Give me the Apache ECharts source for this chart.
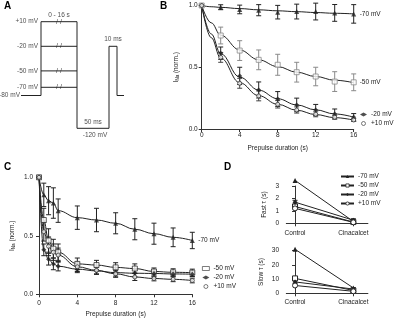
<!DOCTYPE html>
<html>
<head>
<meta charset="utf-8">
<script src="https://cdn.jsdelivr.net/npm/echarts@6/dist/echarts.min.js"></script>
<style>
  html, body { margin: 0; padding: 0; background: #fff; }
  #chart { width: 400px; height: 323px; }
</style>
</head>
<body>
<div id="chart"></div>
<script>
const FONT = "Liberation Sans, Arial, sans-serif";
const INK = "#222";

// A: voltage protocol (schematic time units, mV)
const protoLevels = [10, -20, -50, -70];
const protoLevelLabels = ["+10 mV", "-20 mV", "-50 mV", "-70 mV"];
const protoLeadX = [21, 41, 41];
const protoLeadV = [-80, -80, 10];
const protoTailX = [77, 77, 109, 109, 117, 117, 124];
const protoTailV = [10, -120, -120, -20, -20, -80, -80];
const protoStepX = [41, 77];
const protoBreakX = 59;

// B: slow inactivation, control
const tB = [0, 2, 4, 6, 8, 10, 12, 14, 16];
const bNeg70 = [1, 0.986, 0.968, 0.962, 0.946, 0.951, 0.951, 0.94, 0.932];
const bNeg70Err = [0, 0.02, 0.035, 0.045, 0.055, 0.06, 0.068, 0.068, 0.075];
const bNeg50 = [1, 0.757, 0.635, 0.56, 0.52, 0.46, 0.425, 0.384, 0.378];
const bNeg50Err = [0, 0.068, 0.08, 0.08, 0.085, 0.08, 0.075, 0.08, 0.068];
const bNeg20 = [1, 0.614, 0.43, 0.316, 0.243, 0.195, 0.154, 0.122, 0.095];
const bNeg20Err = [0, 0.05, 0.07, 0.065, 0.06, 0.055, 0.045, 0.04, 0.03];
const bPos10 = [1, 0.58, 0.37, 0.268, 0.2, 0.154, 0.119, 0.095, 0.073];
const bPos10Err = [0, 0.04, 0.04, 0.04, 0.03, 0.025, 0.02, 0.015, 0.012];

const tBFit = [0, 1, 2, 4, 6, 8, 10, 12, 14, 16];
const bFitNeg70 = [1, 0.99, 0.985, 0.975, 0.965, 0.957, 0.95, 0.943, 0.937, 0.932];
const bFitNeg50 = [1, 0.86, 0.76, 0.64, 0.56, 0.505, 0.46, 0.425, 0.395, 0.375];
const bFitNeg20 = [1, 0.77, 0.61, 0.42, 0.315, 0.245, 0.195, 0.155, 0.122, 0.096];
const bFitPos10 = [1, 0.74, 0.575, 0.375, 0.27, 0.2, 0.152, 0.117, 0.092, 0.072];

// C: with cinacalcet
const tC = [0, 0.5, 1, 1.5, 2, 4, 6, 8, 10, 12, 14, 16];
const cNeg70 = [1, 0.85, 0.8, 0.78, 0.715, 0.655, 0.635, 0.607, 0.556, 0.518, 0.487, 0.46];
const cNeg70Err = [0, 0.1, 0.12, 0.13, 0.1, 0.1, 0.1, 0.09, 0.09, 0.09, 0.08, 0.07];
const cNeg50 = [1, 0.635, 0.46, 0.39, 0.36, 0.26, 0.25, 0.23, 0.22, 0.195, 0.188, 0.185];
const cNeg50Err = [0, 0.1, 0.1, 0.08, 0.07, 0.05, 0.04, 0.04, 0.04, 0.03, 0.03, 0.03];
const cNeg20 = [1, 0.38, 0.3, 0.26, 0.24, 0.215, 0.2, 0.185, 0.18, 0.178, 0.174, 0.172];
const cNeg20Err = [0, 0.05, 0.05, 0.05, 0.04, 0.03, 0.03, 0.03, 0.03, 0.03, 0.02, 0.02];
const cPos10 = [1, 0.535, 0.41, 0.36, 0.335, 0.235, 0.205, 0.175, 0.148, 0.135, 0.128, 0.118];
const cPos10Err = [0, 0.08, 0.08, 0.07, 0.06, 0.04, 0.03, 0.03, 0.03, 0.02, 0.02, 0.02];

// D: time constants
const dConds = ["Control", "Cinacalcet"];
const dX = [0, 1];
const dFastNeg70 = [3.45, 0.15];
const dFastNeg50 = [1.35, 0.1];
const dFastNeg20 = [1.7, 0.25];
const dFastPos10 = [1.2, 0.08];
const dFastErr20 = [0.15, 0.12];
const dSlowNeg70 = [31, 3.8];
const dSlowNeg50 = [10.5, 2.0];
const dSlowNeg20 = [8, 3];
const dSlowPos10 = [5.5, 1.4];
const dSlowErr20 = [1.2, 1];

function zip(xs, ys) {
    return xs.map((x, i) => [x, ys[i]]);
}

function errBars(xi, xs, ys, es, color) {
    return {
        type: "custom",
        xAxisIndex: xi,
        yAxisIndex: xi,
        silent: true,
        z: 2,
        clip: false,
        data: xs.map((x, i) => [x, ys[i], es[i]]),
        encode: { x: 0, y: 1 },
        renderItem: function (params, api) {
            const x = api.value(0), y = api.value(1), e = api.value(2);
            if (!e) return { type: "group", children: [] };
            const hi = api.coord([x, y + e]);
            const lo = api.coord([x, y - e]);
            const w = 2.5;
            const st = { stroke: color, lineWidth: 1 };
            return {
                type: "group",
                children: [
                    { type: "line", shape: { x1: hi[0], y1: hi[1], x2: lo[0], y2: lo[1] }, style: st },
                    { type: "line", shape: { x1: hi[0] - w, y1: hi[1], x2: hi[0] + w, y2: hi[1] }, style: st },
                    { type: "line", shape: { x1: lo[0] - w, y1: lo[1], x2: lo[0] + w, y2: lo[1] }, style: st }
                ]
            };
        }
    };
}

function dots(name, xi, xs, ys, symbol, color, hollow, size) {
    return {
        type: "scatter",
        name: name,
        xAxisIndex: xi,
        yAxisIndex: xi,
        z: 4,
        clip: false,
        symbol: symbol,
        symbolSize: size || 5,
        data: zip(xs, ys),
        itemStyle: hollow
            ? { color: "#fff", borderColor: color, borderWidth: 1 }
            : { color: color }
    };
}

function fit(name, xi, xs, ys, label) {
    const s = {
        type: "line",
        name: name,
        xAxisIndex: xi,
        yAxisIndex: xi,
        z: 3,
        silent: true,
        showSymbol: false,
        smooth: 0.4,
        smoothMonotone: "x",
        data: zip(xs, ys),
        lineStyle: { color: INK, width: 1 }
    };
    if (label) {
        s.endLabel = { show: true, formatter: label, distance: 6, fontSize: 6.5, color: INK, fontFamily: FONT };
    }
    return s;
}

function dLine(name, xi, ys, symbol, hollow) {
    return {
        type: "line",
        name: name,
        xAxisIndex: xi,
        yAxisIndex: xi,
        z: 4,
        clip: false,
        symbol: symbol,
        symbolSize: 5,
        showSymbol: true,
        data: zip(dX, ys),
        lineStyle: { color: INK, width: 1 },
        itemStyle: hollow
            ? { color: "#fff", borderColor: INK, borderWidth: 1 }
            : { color: INK }
    };
}

function protoLine(xs, vs) {
    return {
        type: "line",
        xAxisIndex: 0,
        yAxisIndex: 0,
        silent: true,
        showSymbol: false,
        data: zip(xs, vs),
        lineStyle: { color: INK, width: 1 }
    };
}

function axis(extra) {
    return Object.assign({
        axisLine: { lineStyle: { color: "#333", width: 1 } },
        axisTick: { length: 3, lineStyle: { color: "#333" } },
        axisLabel: { fontSize: 6.5, color: INK, margin: 2, fontFamily: FONT },
        splitLine: { show: false },
        nameTextStyle: { fontSize: 6.5, color: INK, fontFamily: FONT }
    }, extra);
}

const inaName = "{a|I}{b|Na}{a| (norm.)}";
const inaRich = {
    a: { fontSize: 6.5, color: INK, fontFamily: FONT },
    b: { fontSize: 4.5, color: INK, fontFamily: FONT, padding: [3, 0, 0, 0] }
};

const series = [];

// panel A
series.push(protoLine(protoLeadX, protoLeadV));
series.push(protoLine(protoTailX, protoTailV));
protoLevels.forEach(v => series.push(protoLine(protoStepX, [v, v])));
series.push({
    type: "scatter", xAxisIndex: 0, yAxisIndex: 0, silent: true, symbolSize: 0,
    data: protoLevels.map((v, i) => ({ value: [protoStepX[0], v], label: { formatter: protoLevelLabels[i] } })),
    label: { show: true, position: "left", distance: 3, fontSize: 6.5, color: INK, fontFamily: FONT }
});
series.push({
    type: "scatter", xAxisIndex: 0, yAxisIndex: 0, silent: true, symbolSize: 0,
    data: [{ value: [protoLeadX[0], protoLeadV[0]], label: { formatter: "-80 mV" } }],
    label: { show: true, position: "left", distance: 1, fontSize: 6.5, color: INK, fontFamily: FONT }
});
series.push({
    type: "scatter", xAxisIndex: 0, yAxisIndex: 0, silent: true, symbolSize: 0,
    data: protoLevels.map(v => [protoBreakX, v]),
    label: {
        show: true, position: "inside", formatter: "/ /", fontSize: 7, color: INK,
        fontFamily: FONT, backgroundColor: "#fff", padding: [0, 0]
    }
});
series.push({
    type: "scatter", xAxisIndex: 0, yAxisIndex: 0, silent: true, symbolSize: 0,
    data: [
        { value: [59, 10], label: { formatter: "0 - 16 s", position: "top", distance: 3 } },
        { value: [113, -20], label: { formatter: "10 ms", position: "top", distance: 4 } },
        { value: [93, -120], label: { formatter: "50 ms", position: "top", distance: 3 } },
        { value: [95, -120], label: { formatter: "-120 mV", position: "bottom", distance: 3 } }
    ],
    label: { show: true, fontSize: 6.5, color: INK, fontFamily: FONT }
});

// panel B
series.push(errBars(1, tB, bNeg70, bNeg70Err, INK));
series.push(errBars(1, tB, bNeg50, bNeg50Err, "#8a8a8a"));
series.push(errBars(1, tB, bNeg20, bNeg20Err, INK));
series.push(errBars(1, tB, bPos10, bPos10Err, "#444"));
series.push(fit("Bf70", 1, tBFit, bFitNeg70, "-70 mV"));
series.push(fit("Bf50", 1, tBFit, bFitNeg50, "-50 mV"));
series.push(fit("Bf20", 1, tBFit, bFitNeg20));
series.push(fit("Bf10", 1, tBFit, bFitPos10));
series.push(dots("B|-70 mV", 1, tB, bNeg70, "triangle", INK, false, 5));
series.push(dots("B|-50 mV", 1, tB, bNeg50, "rect", "#8a8a8a", true, 5));
series.push(dots("B|-20 mV", 1, tB, bNeg20, "diamond", INK, false, 5));
series.push(dots("B|+10 mV", 1, tB, bPos10, "circle", "#333", true, 4));

// panel C
series.push(errBars(2, tC, cNeg70, cNeg70Err, INK));
series.push(errBars(2, tC, cNeg50, cNeg50Err, INK));
series.push(errBars(2, tC, cNeg20, cNeg20Err, INK));
series.push(errBars(2, tC, cPos10, cPos10Err, INK));
series.push(fit("Cf70", 2, tC, cNeg70, "-70 mV"));
series.push(fit("Cf50", 2, tC, cNeg50));
series.push(fit("Cf20", 2, tC, cNeg20));
series.push(fit("Cf10", 2, tC, cPos10));
series.push(dots("C|-70 mV", 2, tC, cNeg70, "triangle", INK, false, 5));
series.push(dots("C|-50 mV", 2, tC, cNeg50, "rect", "#333", true, 5));
series.push(dots("C|-20 mV", 2, tC, cNeg20, "diamond", INK, false, 5));
series.push(dots("C|+10 mV", 2, tC, cPos10, "circle", "#333", true, 4));

// panel D
series.push(errBars(3, dX, dFastNeg20, dFastErr20, INK));
series.push(dLine("D|-70 mV", 3, dFastNeg70, "triangle", false));
series.push(dLine("D|-50 mV", 3, dFastNeg50, "rect", true));
series.push(dLine("D|-20 mV", 3, dFastNeg20, "diamond", false));
series.push(dLine("D|+10 mV", 3, dFastPos10, "circle", true));
series.push(errBars(4, dX, dSlowNeg20, dSlowErr20, INK));
series.push(dLine("E|-70 mV", 4, dSlowNeg70, "triangle", false));
series.push(dLine("E|-50 mV", 4, dSlowNeg50, "rect", true));
series.push(dLine("E|-20 mV", 4, dSlowNeg20, "diamond", false));
series.push(dLine("E|+10 mV", 4, dSlowPos10, "circle", true));

function legend(names, left, top, itemWidth) {
    return {
        data: names,
        left: left,
        top: top,
        orient: "vertical",
        selectedMode: false,
        padding: 0,
        itemGap: 2,
        itemWidth: itemWidth,
        itemHeight: 4,
        itemStyle: { borderWidth: 0.8 },
        formatter: n => n.slice(2),
        textStyle: { fontSize: 6.5, color: INK, fontFamily: FONT, lineHeight: 6, padding: [0, 0, 0, -1] }
    };
}

const option = {
    animation: false,
    textStyle: { fontFamily: FONT },
    grid: [
        { left: 0, top: 13.5, width: 125, height: 123 },
        { left: 201.7, top: 5.5, width: 152, height: 123.5 },
        { left: 39, top: 177.3, width: 153.3, height: 117 },
        { left: 286.3, top: 186, width: 81.6, height: 37.3 },
        { left: 286.3, top: 250.7, width: 81.6, height: 42.6 }
    ],
    xAxis: [
        { type: "value", gridIndex: 0, min: 0, max: 125, show: false },
        axis({
            type: "value", gridIndex: 1, min: 0, max: 16, interval: 4, offset: 1,
            name: "Prepulse duration (s)", nameLocation: "middle", nameGap: 15
        }),
        axis({
            type: "value", gridIndex: 2, min: 0, max: 16, interval: 4, offset: 3,
            name: "Prepulse duration (s)", nameLocation: "middle", nameGap: 13
        }),
        axis({
            type: "value", gridIndex: 3, min: -0.15, max: 1.25, offset: 4.4,
            axisTick: { length: 3, lineStyle: { color: "#333" }, customValues: dX },
            axisLabel: { fontSize: 6.5, color: INK, margin: 2, fontFamily: FONT, customValues: dX, formatter: v => dConds[Math.round(v)] }
        }),
        axis({
            type: "value", gridIndex: 4, min: -0.15, max: 1.25, offset: 3.4,
            axisTick: { length: 3, lineStyle: { color: "#333" }, customValues: dX },
            axisLabel: { fontSize: 6.5, color: INK, margin: 2, fontFamily: FONT, customValues: dX, formatter: v => dConds[Math.round(v)] }
        })
    ],
    yAxis: [
        { type: "value", gridIndex: 0, min: -130, max: 20, show: false },
        axis({
            type: "value", gridIndex: 1, min: 0, max: 1, interval: 0.5, offset: 2,
            axisLabel: { fontSize: 6.5, color: INK, margin: 2, fontFamily: FONT, formatter: v => v.toFixed(1) },
            name: inaName, nameLocation: "middle", nameGap: 19,
            nameTextStyle: { rich: inaRich }
        }),
        axis({
            type: "value", gridIndex: 2, min: 0, max: 1, interval: 0.5, offset: 4,
            axisLabel: { fontSize: 6.5, color: INK, margin: 2, fontFamily: FONT, formatter: v => v.toFixed(1) },
            name: inaName, nameLocation: "middle", nameGap: 19,
            nameTextStyle: { rich: inaRich }
        }),
        axis({
            type: "value", gridIndex: 3, min: 0, max: 3, interval: 1, offset: 5.3,
            name: "Fast τ (s)", nameLocation: "middle", nameGap: 13
        }),
        axis({
            type: "value", gridIndex: 4, min: 0, max: 30, interval: 10, offset: 5.3,
            name: "Slow τ (s)", nameLocation: "middle", nameGap: 16
        })
    ],
    legend: [
        legend(["B|-20 mV", "B|+10 mV"], 360, 111, 7),
        legend(["C|-50 mV", "C|-20 mV", "C|+10 mV"], 202, 265, 7),
        legend(["D|-70 mV", "D|-50 mV", "D|-20 mV", "D|+10 mV"], 340, 173, 13)
    ],
    graphic: [
        { type: "text", left: 4, top: 1, style: { text: "A", font: "bold 10px " + FONT, fill: "#000" } },
        { type: "text", left: 160, top: 1, style: { text: "B", font: "bold 10px " + FONT, fill: "#000" } },
        { type: "text", left: 4, top: 162, style: { text: "C", font: "bold 10px " + FONT, fill: "#000" } },
        { type: "text", left: 224, top: 162, style: { text: "D", font: "bold 10px " + FONT, fill: "#000" } }
    ],
    series: series
};

const chart = echarts.init(document.getElementById("chart"));
chart.setOption(option);
</script>
</body>
</html>
